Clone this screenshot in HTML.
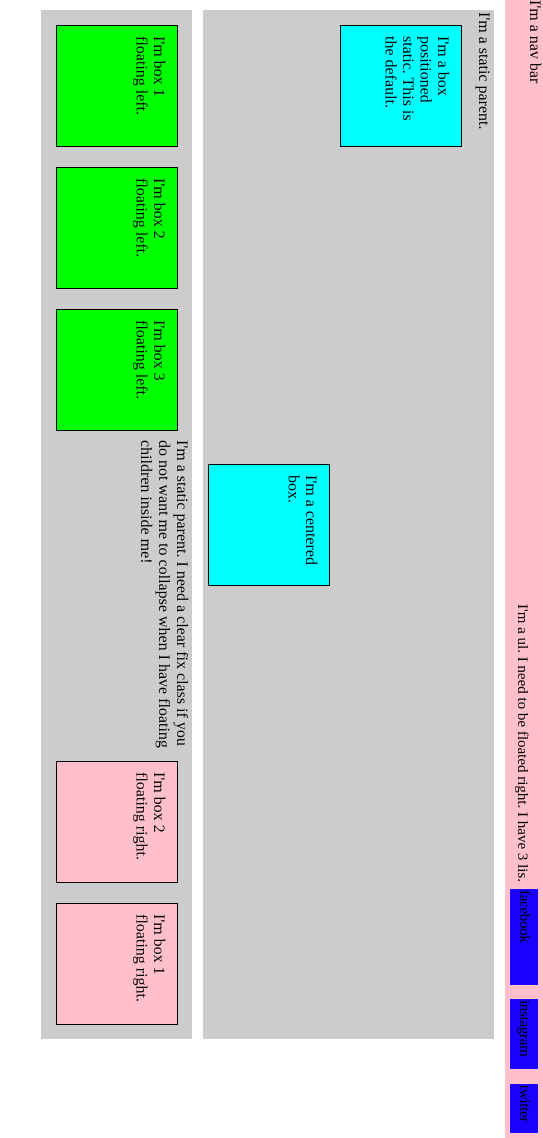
<!DOCTYPE html>
<html><head><meta charset="utf-8"><style>
body{margin:0;width:543px;height:1138px;position:relative;background:#fff;font-family:"Liberation Serif",serif;font-size:16px;overflow:hidden}
div{position:absolute;box-sizing:border-box}
.v{writing-mode:vertical-rl;line-height:18px;color:#000}
.b{width:122px;height:122px;border:1px solid #000;padding:10px 10px 10px 10px;writing-mode:vertical-rl;line-height:17.5px}
.cy{background:#0ff}.gr{background:#0f0}.pk{background:#ffc0cb}
.bl{background:#1a00ff;width:28px;writing-mode:vertical-rl;line-height:28px;color:#000;padding-top:1px;font-size:15px;letter-spacing:-0.3px}
</style></head><body>
<div style="left:505px;top:0;width:38px;height:1138px;background:#ffc0cb"></div>
<div class="v" style="left:523px;top:0;width:20px">I'm a nav bar</div>
<div class="v" style="left:511px;top:580px;height:302px;width:20px;font-size:15px;white-space:nowrap;text-align:right">I'm a ul. I need to be floated right. I have 3 lis.</div>
<div class="bl" style="left:510px;top:889px;height:96px">facebook</div>
<div class="bl" style="left:510px;top:999px;height:70px">instagram</div>
<div class="bl" style="left:510px;top:1084px;height:49px">twitter</div>

<div style="left:203px;top:10px;width:291px;height:1029px;background:#ccc"></div>
<div class="v" style="left:472px;top:12px;width:20px">I'm a static parent.</div>
<div class="b cy" style="left:340px;top:25px">I'm a box positioned static. This is the default.</div>
<div class="b cy" style="left:208px;top:464px">I'm a centered box.</div>

<div style="left:41px;top:10px;width:151px;height:1029px;background:#ccc"></div>
<div class="b gr" style="left:56px;top:25px">I'm box 1 floating left.</div>
<div class="b gr" style="left:56px;top:167px">I'm box 2 floating left.</div>
<div class="b gr" style="left:56px;top:309px">I'm box 3 floating left.</div>
<div class="v" style="left:132px;top:440px;width:58px;height:320px">I'm a static parent. I need a clear fix class if you do not want me to collapse when I have floating children inside me!</div>
<div class="b pk" style="left:56px;top:761px">I'm box 2 floating right.</div>
<div class="b pk" style="left:56px;top:903px">I'm box 1 floating right.</div>
</body></html>
